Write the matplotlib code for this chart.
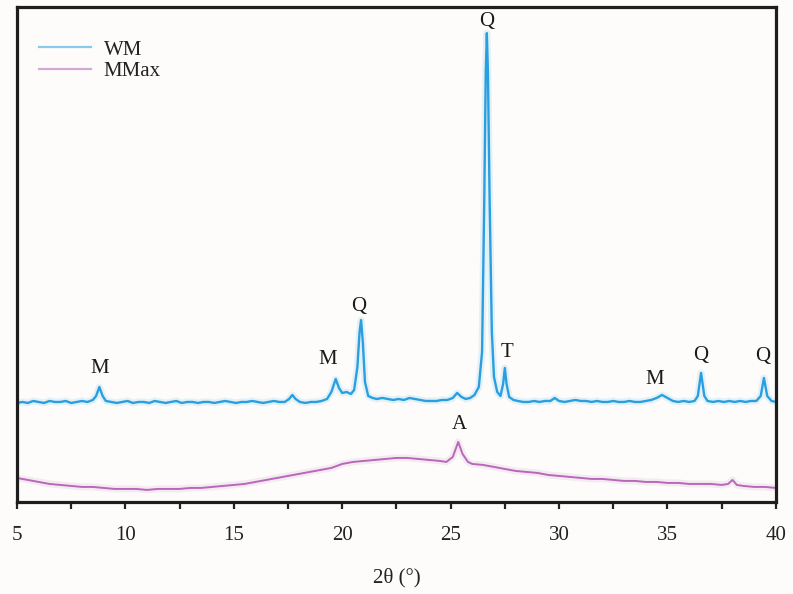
import matplotlib
matplotlib.use("Agg")
import matplotlib.pyplot as plt
from matplotlib.ticker import MultipleLocator

plt.rcParams['font.family'] = ['Liberation Serif', 'DejaVu Serif']

# WM diffraction trace (2θ in degrees, intensity in arbitrary units)
wm_2theta = [
    5.0, 5.25, 5.5, 5.75, 6.0, 6.25, 6.5, 6.75, 7.0, 7.25, 7.5, 7.75, 8.0, 8.25,
    8.5, 8.65, 8.8, 8.95, 9.1, 9.35, 9.6, 9.85, 10.1, 10.35, 10.6, 10.85, 11.1,
    11.35, 11.6, 11.85, 12.1, 12.35, 12.6, 12.85, 13.1, 13.35, 13.6, 13.85, 14.1,
    14.35, 14.6, 14.85, 15.1, 15.35, 15.6, 15.85, 16.1, 16.35, 16.6, 16.85, 17.1,
    17.35, 17.55, 17.7, 17.85, 18.05, 18.3, 18.55, 18.8, 19.05, 19.3, 19.5, 19.7,
    19.85, 20.0, 20.2, 20.4, 20.55, 20.7, 20.8, 20.87, 20.95, 21.05, 21.2, 21.4,
    21.6, 21.85, 22.1, 22.35, 22.6, 22.85, 23.1, 23.35, 23.6, 23.85, 24.1, 24.35,
    24.6, 24.85, 25.1, 25.3, 25.5, 25.7, 25.9, 26.1, 26.3, 26.45, 26.55, 26.62,
    26.67, 26.72, 26.8, 26.9, 27.0, 27.15, 27.3, 27.42, 27.5, 27.58, 27.7, 27.9,
    28.1, 28.35, 28.6, 28.85, 29.1, 29.35, 29.6, 29.8, 30.0, 30.25, 30.5, 30.75,
    31.0, 31.25, 31.5, 31.75, 32.0, 32.25, 32.5, 32.75, 33.0, 33.25, 33.5, 33.75,
    34.0, 34.25, 34.5, 34.75, 35.0, 35.25, 35.5, 35.75, 36.0, 36.25, 36.4, 36.55,
    36.7, 36.85, 37.1, 37.35, 37.6, 37.85, 38.1, 38.35, 38.6, 38.85, 39.1, 39.3,
    39.45, 39.6, 39.8, 40.0,
]
wm_intensity = [
    99, 100, 99, 101, 100, 99, 101, 100, 100, 101, 99, 100, 101, 100,
    102, 106, 115, 106, 101, 100, 99, 100, 101, 99, 100, 100, 99,
    101, 100, 99, 100, 101, 99, 100, 100, 99, 100, 100, 99,
    100, 101, 100, 99, 100, 100, 101, 100, 99, 100, 101, 100,
    100, 103, 107, 103, 100, 99, 100, 100, 101, 103, 110, 123,
    114, 109, 110, 108, 112, 135, 170, 182, 160, 120, 106, 104,
    103, 104, 103, 102, 103, 102, 104, 103, 102, 101, 101, 101,
    102, 102, 104, 109, 105, 103, 104, 107, 115, 150, 300, 430,
    469, 430, 300, 170, 125, 110, 106, 118, 134, 118, 105, 102,
    101, 100, 100, 101, 100, 101, 101, 104, 101, 100, 101, 102,
    101, 101, 100, 101, 100, 100, 101, 100, 100, 101, 100, 100,
    101, 102, 104, 107, 104, 101, 100, 101, 100, 101, 106, 129,
    106, 101, 100, 101, 100, 101, 100, 101, 100, 101, 101, 106,
    124, 106, 101, 100,
]

# MMax diffraction trace
mmax_2theta = [
    5.0, 5.5, 6.0, 6.5, 7.0, 7.5, 8.0, 8.5, 9.0, 9.5, 10.0, 10.5, 11.0, 11.5,
    12.0, 12.5, 13.0, 13.5, 14.0, 14.5, 15.0, 15.5, 16.0, 16.5, 17.0, 17.5,
    18.0, 18.5, 19.0, 19.5, 20.0, 20.5, 21.0, 21.5, 22.0, 22.5, 23.0, 23.5,
    24.0, 24.5, 24.8, 25.1, 25.35, 25.55, 25.8, 26.0, 26.5, 27.0, 27.5, 28.0,
    28.5, 29.0, 29.5, 30.0, 30.5, 31.0, 31.5, 32.0, 32.5, 33.0, 33.5, 34.0,
    34.5, 35.0, 35.5, 36.0, 36.5, 37.0, 37.5, 37.8, 38.0, 38.2, 38.5, 39.0,
    39.5, 40.0,
]
mmax_intensity = [
    24, 22, 20, 18, 17, 16, 15, 15, 14, 13, 13, 13, 12, 13,
    13, 13, 14, 14, 15, 16, 17, 18, 20, 22, 24, 26,
    28, 30, 32, 34, 38, 40, 41, 42, 43, 44, 44, 43,
    42, 41, 40, 45, 60, 48, 40, 38, 37, 35, 33, 31,
    30, 29, 27, 26, 25, 24, 23, 23, 22, 21, 21, 20,
    20, 19, 19, 18, 18, 18, 17, 18, 22, 17, 16, 15,
    15, 14,
]

# Phase labels: M = mica, Q = quartz, T = tourmaline, A = anatase
peak_labels = ["M", "M", "Q", "Q", "T", "M", "Q", "Q", "A"]
label_2theta = [8.83, 19.34, 20.77, 26.67, 27.6, 34.4, 36.53, 39.4, 25.38]
label_intensity = [133, 142, 196, 481, 149, 122, 146, 145, 77]

wm_color = "#2a9fe0"
mmax_color = "#b868b8"

fig = plt.figure(figsize=(7.93, 5.94), dpi=100, facecolor="#fdfcfa")
ax = fig.add_axes([0.0214, 0.155, 0.957, 0.833])
ax.set_facecolor("#fdfcfa")

# soft halo under each trace, then the trace itself
ax.plot(wm_2theta, wm_intensity, color=wm_color, lw=5, alpha=0.12,
        solid_joinstyle="round")
ax.plot(mmax_2theta, mmax_intensity, color=mmax_color, lw=5, alpha=0.12,
        solid_joinstyle="round")
ax.plot(wm_2theta, wm_intensity, color=wm_color, lw=1.7, label="WM")
ax.plot(mmax_2theta, mmax_intensity, color=mmax_color, lw=1.4, label="MMax")

for lab, x, y in zip(peak_labels, label_2theta, label_intensity):
    ax.text(x, y, lab, ha="center", va="center", fontsize=15, color="#1a1a1a")

ax.set_xlim(5, 40)
ax.set_ylim(0, 495)
ax.xaxis.set_major_locator(MultipleLocator(5))
ax.xaxis.set_minor_locator(MultipleLocator(2.5))
ax.set_yticks([])
ax.tick_params(axis="x", which="both", direction="out", length=5, width=1.6,
               colors="#222222", labelsize=15, pad=12)
for sp in ax.spines.values():
    sp.set_linewidth(2.3)
    sp.set_color("#1e1e1e")

ax.set_xlabel("2θ (°)", fontsize=15, color="#222222", labelpad=17)

leg = ax.legend(loc="upper left", bbox_to_anchor=(0.01, 0.963), frameon=False,
                fontsize=15, handlelength=2.5, handletextpad=0.6,
                labelspacing=0.1, borderaxespad=0.3)
for line in leg.get_lines():
    line.set_alpha(0.55)
    line.set_linewidth(1.6)
for t in leg.get_texts():
    t.set_color("#222222")

fig.savefig("out.png", dpi=100, facecolor=fig.get_facecolor())
